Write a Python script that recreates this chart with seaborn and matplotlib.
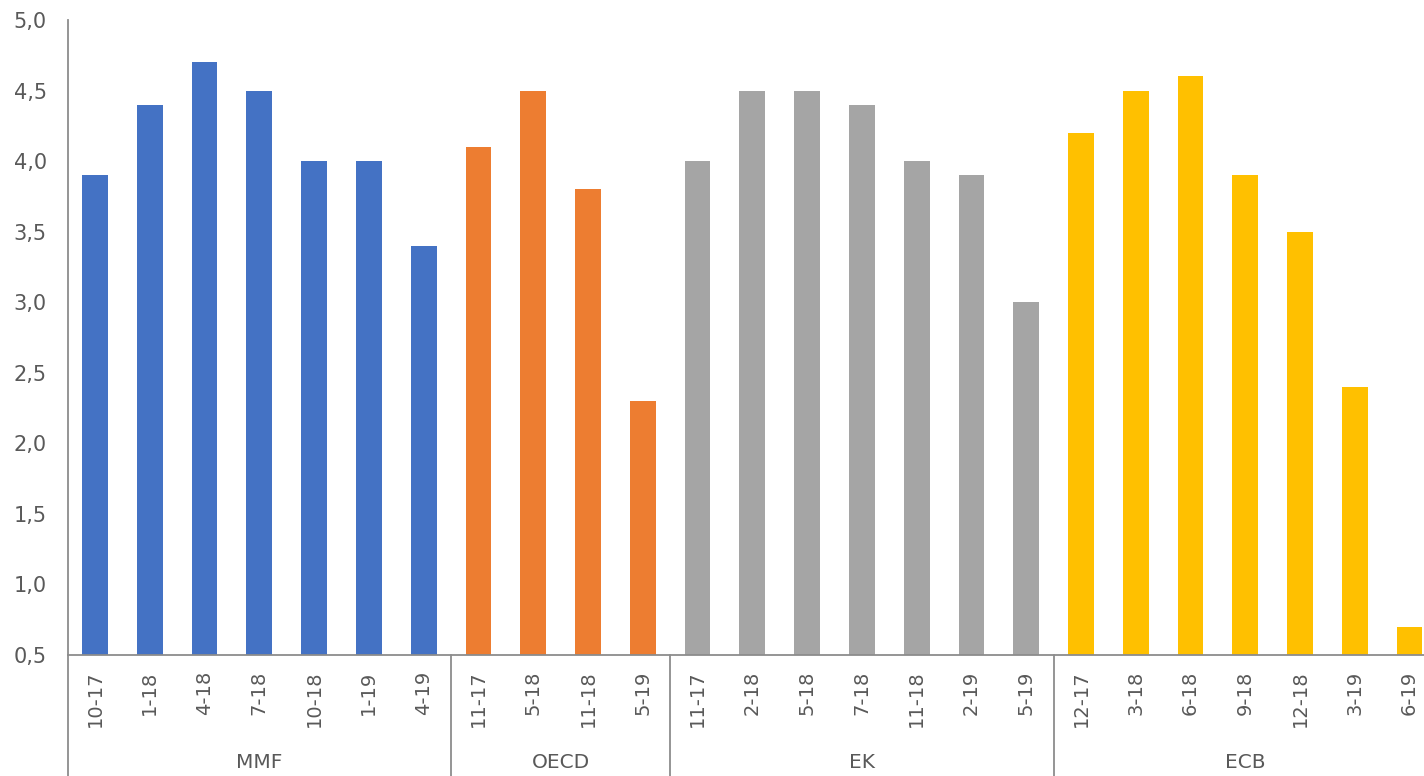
import matplotlib
matplotlib.use("Agg")
import matplotlib.pyplot as plt
import seaborn as sns
import pandas as pd
from matplotlib.lines import Line2D

groups = ["MMF", "OECD", "EK", "ECB"]
mmf_labels = ["10-17", "1-18", "4-18", "7-18", "10-18", "1-19", "4-19"]
mmf_values = [3.9, 4.4, 4.7, 4.5, 4.0, 4.0, 3.4]
oecd_labels = ["11-17", "5-18", "11-18", "5-19"]
oecd_values = [4.1, 4.5, 3.8, 2.3]
ek_labels = ["11-17", "2-18", "5-18", "7-18", "11-18", "2-19", "5-19"]
ek_values = [4.0, 4.5, 4.5, 4.4, 4.0, 3.9, 3.0]
ecb_labels = ["12-17", "3-18", "6-18", "9-18", "12-18", "3-19", "6-19"]
ecb_values = [4.2, 4.5, 4.6, 3.9, 3.5, 2.4, 0.7]
colors = ["#4472C4", "#ED7D31", "#A5A5A5", "#FFC000"]
yticks = [0.5, 1.0, 1.5, 2.0, 2.5, 3.0, 3.5, 4.0, 4.5, 5.0]

rows = []
for g, labs, vals in zip(groups, [mmf_labels, oecd_labels, ek_labels, ecb_labels],
                         [mmf_values, oecd_values, ek_values, ecb_values]):
    for l, v in zip(labs, vals):
        rows.append({"group": g, "label": l, "value": v})
df = pd.DataFrame(rows)
df["key"] = [f"{i:02d}" for i in range(len(df))]

sns.set_theme(style="white")
plt.rcParams["font.family"] = ["DejaVu Sans"]
txt = "#595959"
axc = "#8C8C8C"

fig = plt.figure(figsize=(14.24, 7.76), dpi=100)
ax = fig.add_axes([67.6 / 1424, 1 - 655 / 776, (1437 - 67.6) / 1424, 635 / 776])

sns.barplot(data=df, x="key", y="value", hue="group", palette=colors,
            dodge=False, width=0.47, ax=ax, legend=False,
            saturation=1, linewidth=0)
ax.set_ylim(0.5, 5.0)
ax.set_xlim(-0.5, len(df) - 0.5)
ax.set_yticks(yticks)
ax.set_yticklabels([f"{t:.1f}".replace(".", ",") for t in yticks], color=txt, fontsize=15)
ax.set_xticks(range(len(df)))
ax.set_xticklabels(df["label"], rotation=90, color=txt, fontsize=14, va="top")
ax.tick_params(axis="both", length=0)
ax.tick_params(axis="y", pad=15)
ax.tick_params(axis="x", pad=11)
ax.set_xlabel("")
ax.set_ylabel("")

for s in ["top", "right"]:
    ax.spines[s].set_visible(False)
for s in ["left", "bottom"]:
    ax.spines[s].set_color(axc)
    ax.spines[s].set_linewidth(1.3)

trans = ax.get_xaxis_transform()
ybot = -(776 - 655) / 635 - 0.01
bounds = [-0.5]
n = 0
for labs in [mmf_labels, oecd_labels, ek_labels, ecb_labels]:
    n += len(labs)
    bounds.append(n - 0.5)
for b in bounds[:-1]:
    ax.add_line(Line2D([b, b], [0, ybot], transform=trans, color=axc, lw=1.3, clip_on=False))
for g, a, b in zip(groups, bounds[:-1], bounds[1:]):
    ax.text((a + b) / 2, -108 / 635, g, transform=trans, ha="center", va="center",
            color=txt, fontsize=14.5)

fig.savefig("out.png", dpi=100)
